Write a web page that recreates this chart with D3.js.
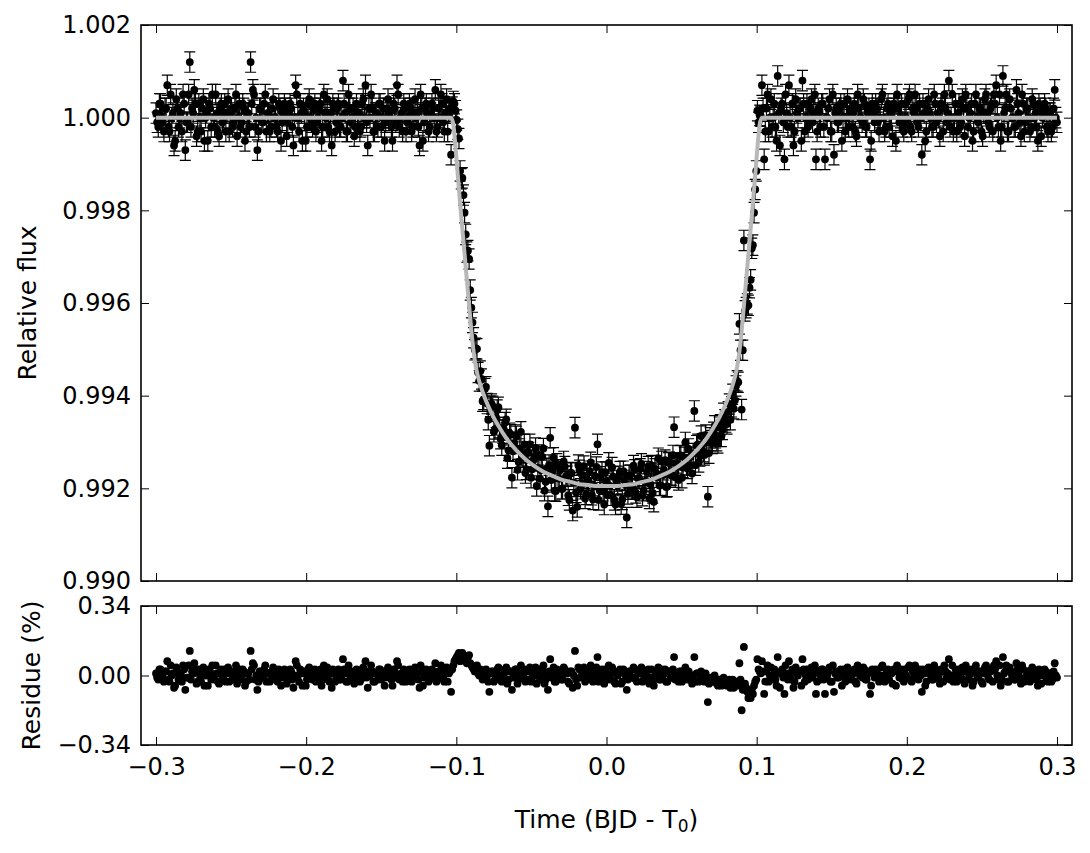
<!DOCTYPE html>
<html><head><meta charset="utf-8">
<script src="https://cdn.jsdelivr.net/npm/d3@7"></script>
<style>html,body{margin:0;padding:0;background:#fff;}svg{display:block;font-family:"DejaVu Sans",sans-serif;}</style>
</head><body><svg id="chart" width="1090" height="853"></svg>
<script>
// Time (BJD - T0), days — two interleaved exposure sequences
const time = [
-0.3000,-0.2985,-0.2970,-0.2955,-0.2940,-0.2925,-0.2910,-0.2895,-0.2880,-0.2865,
-0.2850,-0.2835,-0.2820,-0.2805,-0.2790,-0.2775,-0.2760,-0.2745,-0.2730,-0.2715,
-0.2700,-0.2685,-0.2670,-0.2655,-0.2640,-0.2625,-0.2610,-0.2595,-0.2580,-0.2565,
-0.2550,-0.2535,-0.2520,-0.2505,-0.2490,-0.2475,-0.2460,-0.2445,-0.2430,-0.2415,
-0.2400,-0.2385,-0.2370,-0.2355,-0.2340,-0.2325,-0.2310,-0.2295,-0.2280,-0.2265,
-0.2250,-0.2235,-0.2220,-0.2205,-0.2190,-0.2175,-0.2160,-0.2145,-0.2130,-0.2115,
-0.2100,-0.2085,-0.2070,-0.2055,-0.2040,-0.2025,-0.2010,-0.1995,-0.1980,-0.1965,
-0.1950,-0.1935,-0.1920,-0.1905,-0.1890,-0.1875,-0.1860,-0.1845,-0.1830,-0.1815,
-0.1800,-0.1785,-0.1770,-0.1755,-0.1740,-0.1725,-0.1710,-0.1695,-0.1680,-0.1665,
-0.1650,-0.1635,-0.1620,-0.1605,-0.1590,-0.1575,-0.1560,-0.1545,-0.1530,-0.1515,
-0.1500,-0.1485,-0.1470,-0.1455,-0.1440,-0.1425,-0.1410,-0.1395,-0.1380,-0.1365,
-0.1350,-0.1335,-0.1320,-0.1305,-0.1290,-0.1275,-0.1260,-0.1245,-0.1230,-0.1215,
-0.1200,-0.1185,-0.1170,-0.1155,-0.1140,-0.1125,-0.1110,-0.1095,-0.1080,-0.1065,
-0.1050,-0.1035,-0.1020,-0.1005,-0.0990,-0.0975,-0.0960,-0.0945,-0.0930,-0.0915,
-0.0900,-0.0885,-0.0870,-0.0855,-0.0840,-0.0825,-0.0810,-0.0795,-0.0780,-0.0765,
-0.0750,-0.0735,-0.0720,-0.0705,-0.0690,-0.0675,-0.0660,-0.0645,-0.0630,-0.0615,
-0.0600,-0.0585,-0.0570,-0.0555,-0.0540,-0.0525,-0.0510,-0.0495,-0.0480,-0.0465,
-0.0450,-0.0435,-0.0420,-0.0405,-0.0390,-0.0375,-0.0360,-0.0345,-0.0330,-0.0315,
-0.0300,-0.0285,-0.0270,-0.0255,-0.0240,-0.0225,-0.0210,-0.0195,-0.0180,-0.0165,
-0.0150,-0.0135,-0.0120,-0.0105,-0.0090,-0.0075,-0.0060,-0.0045,-0.0030,-0.0015,
0.0000,0.0015,0.0030,0.0045,0.0060,0.0075,0.0090,0.0105,0.0120,0.0135,
0.0150,0.0165,0.0180,0.0195,0.0210,0.0225,0.0240,0.0255,0.0270,0.0285,
0.0300,0.0315,0.0330,0.0345,0.0360,0.0375,0.0390,0.0405,0.0420,0.0435,
0.0450,0.0465,0.0480,0.0495,0.0510,0.0525,0.0540,0.0555,0.0570,0.0585,
0.0600,0.0615,0.0630,0.0645,0.0660,0.0675,0.0690,0.0705,0.0720,0.0735,
0.0750,0.0765,0.0780,0.0795,0.0810,0.0825,0.0840,0.0855,0.0870,0.0885,
0.0900,0.0915,0.0930,0.0945,0.0960,0.0975,0.0990,0.1005,0.1020,0.1035,
0.1050,0.1065,0.1080,0.1095,0.1110,0.1125,0.1140,0.1155,0.1170,0.1185,
0.1200,0.1215,0.1230,0.1245,0.1260,0.1275,0.1290,0.1305,0.1320,0.1335,
0.1350,0.1365,0.1380,0.1395,0.1410,0.1425,0.1440,0.1455,0.1470,0.1485,
0.1500,0.1515,0.1530,0.1545,0.1560,0.1575,0.1590,0.1605,0.1620,0.1635,
0.1650,0.1665,0.1680,0.1695,0.1710,0.1725,0.1740,0.1755,0.1770,0.1785,
0.1800,0.1815,0.1830,0.1845,0.1860,0.1875,0.1890,0.1905,0.1920,0.1935,
0.1950,0.1965,0.1980,0.1995,0.2010,0.2025,0.2040,0.2055,0.2070,0.2085,
0.2100,0.2115,0.2130,0.2145,0.2160,0.2175,0.2190,0.2205,0.2220,0.2235,
0.2250,0.2265,0.2280,0.2295,0.2310,0.2325,0.2340,0.2355,0.2370,0.2385,
0.2400,0.2415,0.2430,0.2445,0.2460,0.2475,0.2490,0.2505,0.2520,0.2535,
0.2550,0.2565,0.2580,0.2595,0.2610,0.2625,0.2640,0.2655,0.2670,0.2685,
0.2700,0.2715,0.2730,0.2745,0.2760,0.2775,0.2790,0.2805,0.2820,0.2835,
0.2850,0.2865,0.2880,0.2895,0.2910,0.2925,0.2940,0.2955,0.2970,0.2985,
0.3000,
-0.29925,-0.29775,-0.29625,-0.29475,-0.29325,-0.29175,-0.29025,-0.28875,-0.28725,-0.28575,
-0.28425,-0.28275,-0.28125,-0.27975,-0.27825,-0.27675,-0.27525,-0.27375,-0.27225,-0.27075,
-0.26925,-0.26775,-0.26625,-0.26475,-0.26325,-0.26175,-0.26025,-0.25875,-0.25725,-0.25575,
-0.25425,-0.25275,-0.25125,-0.24975,-0.24825,-0.24675,-0.24525,-0.24375,-0.24225,-0.24075,
-0.23925,-0.23775,-0.23625,-0.23475,-0.23325,-0.23175,-0.23025,-0.22875,-0.22725,-0.22575,
-0.22425,-0.22275,-0.22125,-0.21975,-0.21825,-0.21675,-0.21525,-0.21375,-0.21225,-0.21075,
-0.20925,-0.20775,-0.20625,-0.20475,-0.20325,-0.20175,-0.20025,-0.19875,-0.19725,-0.19575,
-0.19425,-0.19275,-0.19125,-0.18975,-0.18825,-0.18675,-0.18525,-0.18375,-0.18225,-0.18075,
-0.17925,-0.17775,-0.17625,-0.17475,-0.17325,-0.17175,-0.17025,-0.16875,-0.16725,-0.16575,
-0.16425,-0.16275,-0.16125,-0.15975,-0.15825,-0.15675,-0.15525,-0.15375,-0.15225,-0.15075,
-0.14925,-0.14775,-0.14625,-0.14475,-0.14325,-0.14175,-0.14025,-0.13875,-0.13725,-0.13575,
-0.13425,-0.13275,-0.13125,-0.12975,-0.12825,-0.12675,-0.12525,-0.12375,-0.12225,-0.12075,
-0.11925,-0.11775,-0.11625,-0.11475,-0.11325,-0.11175,-0.11025,-0.10875,-0.10725,-0.10575,
-0.10425,-0.10275,-0.10125,-0.09975,-0.09825,-0.09675,-0.09525,-0.09375,-0.09225,-0.09075,
-0.08925,-0.08775,-0.08625,-0.08475,-0.08325,-0.08175,-0.08025,-0.07875,-0.07725,-0.07575,
-0.07425,-0.07275,-0.07125,-0.06975,-0.06825,-0.06675,-0.06525,-0.06375,-0.06225,-0.06075,
-0.05925,-0.05775,-0.05625,-0.05475,-0.05325,-0.05175,-0.05025,-0.04875,-0.04725,-0.04575,
-0.04425,-0.04275,-0.04125,-0.03975,-0.03825,-0.03675,-0.03525,-0.03375,-0.03225,-0.03075,
-0.02925,-0.02775,-0.02625,-0.02475,-0.02325,-0.02175,-0.02025,-0.01875,-0.01725,-0.01575,
-0.01425,-0.01275,-0.01125,-0.00975,-0.00825,-0.00675,-0.00525,-0.00375,-0.00225,-0.00075,
0.00075,0.00225,0.00375,0.00525,0.00675,0.00825,0.00975,0.01125,0.01275,0.01425,
0.01575,0.01725,0.01875,0.02025,0.02175,0.02325,0.02475,0.02625,0.02775,0.02925,
0.03075,0.03225,0.03375,0.03525,0.03675,0.03825,0.03975,0.04125,0.04275,0.04425,
0.04575,0.04725,0.04875,0.05025,0.05175,0.05325,0.05475,0.05625,0.05775,0.05925,
0.06075,0.06225,0.06375,0.06525,0.06675,0.06825,0.06975,0.07125,0.07275,0.07425,
0.07575,0.07725,0.07875,0.08025,0.08175,0.08325,0.08475,0.08625,0.08775,0.08925,
0.09075,0.09225,0.09375,0.09525,0.09675,0.09825,0.09975,0.10125,0.10275,0.10425,
0.10575,0.10725,0.10875,0.11025,0.11175,0.11325,0.11475,0.11625,0.11775,0.11925,
0.12075,0.12225,0.12375,0.12525,0.12675,0.12825,0.12975,0.13125,0.13275,0.13425,
0.13575,0.13725,0.13875,0.14025,0.14175,0.14325,0.14475,0.14625,0.14775,0.14925,
0.15075,0.15225,0.15375,0.15525,0.15675,0.15825,0.15975,0.16125,0.16275,0.16425,
0.16575,0.16725,0.16875,0.17025,0.17175,0.17325,0.17475,0.17625,0.17775,0.17925,
0.18075,0.18225,0.18375,0.18525,0.18675,0.18825,0.18975,0.19125,0.19275,0.19425,
0.19575,0.19725,0.19875,0.20025,0.20175,0.20325,0.20475,0.20625,0.20775,0.20925,
0.21075,0.21225,0.21375,0.21525,0.21675,0.21825,0.21975,0.22125,0.22275,0.22425,
0.22575,0.22725,0.22875,0.23025,0.23175,0.23325,0.23475,0.23625,0.23775,0.23925,
0.24075,0.24225,0.24375,0.24525,0.24675,0.24825,0.24975,0.25125,0.25275,0.25425,
0.25575,0.25725,0.25875,0.26025,0.26175,0.26325,0.26475,0.26625,0.26775,0.26925,
0.27075,0.27225,0.27375,0.27525,0.27675,0.27825,0.27975,0.28125,0.28275,0.28425,
0.28575,0.28725,0.28875,0.29025,0.29175,0.29325,0.29475,0.29625,0.29775,0.29925];

// Relative flux
const flux = [
1.0001,0.9998,1.0003,0.9999,1.0002,1.0007,0.9997,1.0000,0.9994,1.0004,
0.9998,1.0001,1.0005,0.9993,0.9999,1.0012,1.0002,1.0006,0.9996,1.0003,
0.9997,1.0004,1.0000,0.9995,1.0002,1.0005,0.9998,1.0001,0.9996,1.0003,
1.0000,0.9997,1.0004,1.0001,0.9998,1.0002,0.9996,1.0003,0.9999,1.0002,
0.9997,1.0001,1.0012,1.0006,0.9998,0.9993,1.0002,0.9999,1.0003,0.9997,
1.0001,0.9998,1.0004,1.0000,0.9997,1.0002,0.9999,1.0003,0.9996,1.0001,
1.0002,0.9994,1.0007,1.0000,1.0003,0.9995,1.0001,0.9998,1.0004,0.9999,
1.0002,0.9997,1.0000,1.0003,0.9998,1.0001,1.0004,0.9997,0.9994,1.0002,
0.9999,1.0003,0.9998,1.0008,1.0001,0.9997,1.0002,1.0000,0.9996,1.0003,
1.0001,0.9998,1.0004,1.0007,0.9994,1.0000,1.0002,0.9997,1.0001,1.0003,
0.9998,1.0002,0.9999,1.0004,1.0000,0.9995,1.0002,1.0007,0.9998,1.0001,
1.0003,0.9997,1.0000,1.0002,0.9998,1.0004,1.0001,0.9994,1.0002,0.9999,
1.0003,0.9997,1.0001,1.0002,1.0006,0.9998,1.0000,1.0003,0.9997,1.0004,1.0001,0.9992,
1.00035,1.00015,0.99975,0.99885,0.99870,0.99795,0.99710,0.99695,0.99590,0.99525,
0.99502,0.99450,0.99453,0.99388,0.99415,0.99383,0.99292,0.99382,0.99322,0.99353,
0.99375,0.99307,0.99319,0.99342,0.99265,0.99319,0.99223,0.99297,0.99312,0.99257,
0.99322,0.99267,0.99233,0.99279,0.99295,0.99241,0.99268,0.99205,0.99272,0.99239,
0.99286,0.99214,0.99161,0.99309,0.99237,0.99195,0.99253,0.99221,0.99199,0.99258,
0.99226,0.99185,0.99234,0.99152,0.99331,0.99160,0.99239,0.99208,0.99248,0.99187,
0.99217,0.99256,0.99176,0.99226,0.99295,0.99195,0.99235,0.99165,0.99215,0.99255,
0.99185,0.99225,0.99165,0.99206,0.99236,0.99176,0.99217,0.99137,0.99228,0.99198,
0.99249,0.99190,0.99221,0.99242,0.99184,0.99215,0.99236,0.99178,0.99249,0.99171,
0.99233,0.99265,0.99207,0.99229,0.99261,0.99204,0.99256,0.99229,0.99332,0.99255,
0.99218,0.99271,0.99245,0.99299,0.99243,0.99267,0.99232,0.99367,0.99292,0.99257,
0.99313,0.99279,0.99315,0.99182,0.99309,0.99297,0.99335,0.99303,0.99332,0.99312,
0.99362,0.99343,0.99365,0.99348,0.99403,0.99390,0.99432,0.99555,0.99370,0.99735,
0.99590,0.99595,0.99650,0.99725,0.99845,1.00015,1.00005,
1.0007,0.9991,1.0002,0.9997,1.0004,1.0000,0.9998,1.0009,0.9994,1.0003,
0.9991,1.0001,1.0007,0.9998,0.9994,1.0004,1.0000,1.0002,1.0008,0.9997,
1.0003,0.9999,1.0004,1.0001,0.9991,1.0002,0.9998,1.0003,0.9991,1.0000,
1.0004,0.9997,0.9992,1.0002,0.9999,1.0003,1.0000,0.9997,1.0004,1.0001,
0.9998,1.0003,0.9996,1.0002,1.0000,1.0004,0.9998,1.0001,0.9991,1.0003,
0.9999,1.0002,0.9997,1.0004,1.0000,0.9998,1.0003,1.0001,0.9996,1.0002,
1.0005,0.9999,1.0003,0.9997,1.0000,1.0004,0.9998,1.0002,1.0005,0.9999,
1.0003,0.9992,1.0001,0.9997,1.0004,1.0000,0.9998,1.0003,1.0001,0.9996,
1.0002,1.0005,0.9999,1.0008,1.0000,0.9997,1.0003,1.0001,0.9998,1.0004,
0.9996,1.0002,1.0000,1.0003,0.9997,1.0005,0.9999,1.0002,0.9996,1.0004,
1.0001,0.9998,1.0003,1.0005,1.0007,0.9998,0.9995,1.0009,1.0002,0.9997,
1.0004,1.0000,0.9998,1.0006,1.0001,0.9996,1.0003,0.9999,1.0002,0.9997,
1.0004,1.0000,0.9998,1.0003,0.9996,1.0001,1.0002,0.9997,1.0001,0.9998,1.0006,0.9999,
0.9999,1.0003,1.0000,0.9997,1.0002,0.9998,1.0005,1.0001,0.9995,1.0002,
1.0000,0.9997,1.0003,0.9999,1.0005,0.9998,1.0001,1.0003,0.9997,1.0000,
1.0002,0.9995,1.0001,1.0003,0.9998,1.0000,1.0005,0.9997,1.0002,0.9999,
1.0003,1.0001,0.9997,1.0002,0.9999,1.0005,1.0000,0.9998,1.0003,0.9995,
1.0001,0.9998,1.0003,1.0005,1.0000,0.9997,1.0002,0.9999,1.0005,1.0001,
0.9997,1.0002,1.0000,0.9998,1.0003,0.9995,1.0001,1.0002,0.9999,1.0003,
0.9998,1.0000,1.0005,0.9997,1.0001,1.0002,0.9995,1.0003,1.0000,0.9998,
1.0003,0.9999,1.0002,0.9995,1.0005,1.0000,0.9998,1.0001,1.0003,0.9997,
1.0002,0.9998,1.0000,1.0003,0.9997,1.0005,0.9999,1.0002,0.9998,1.0001,
0.9997,1.0003,1.0000,0.9999,1.0002,1.0005,0.9997,1.0001,0.9998,1.0003,
1.0000,0.9995,1.0002,1.0001,0.9998,1.0003,0.9999,1.0005,1.0000,0.9997,
1.0002,0.9999,1.0003,0.9997,1.0001,1.0000,0.9998,1.0005,0.9995,1.0002,
1.0001,0.9998,1.0003,1.0000,0.9997,1.0002,1.0005,0.9999,1.0001,0.9997,1.0002,
1.00023,1.00030,0.99995,0.99955,0.99868,0.99833,0.99748,0.99713,0.99628,0.99558,
0.99499,0.99501,0.99432,0.99436,0.99392,0.99419,0.99348,0.99377,0.99377,0.99328,
0.99369,0.99331,0.99293,0.99326,0.99349,0.99282,0.99316,0.99280,0.99315,0.99240,
0.99285,0.99270,0.99295,0.99241,0.99277,0.99223,0.99260,0.99287,0.99244,0.99221,
0.99268,0.99195,0.99243,0.99250,0.99218,0.99266,0.99194,0.99222,0.99240,0.99199,
0.99247,0.99226,0.99175,0.99233,0.99212,0.99191,0.99250,0.99199,0.99228,0.99178,
0.99217,0.99237,0.99186,0.99206,0.99246,0.99175,0.99225,0.99195,0.99235,0.99185,
0.99205,0.99245,0.99175,0.99216,0.99226,0.99166,0.99237,0.99207,0.99188,0.99228,
0.99199,0.99240,0.99181,0.99222,0.99253,0.99195,0.99216,0.99247,0.99209,0.99190,
0.99242,0.99224,0.99206,0.99258,0.99240,0.99203,0.99255,0.99228,0.99271,0.99224,
0.99247,0.99270,0.99223,0.99267,0.99251,0.99285,0.99250,0.99275,0.99250,0.99295,
0.99270,0.99296,0.99272,0.99299,0.99276,0.99303,0.99321,0.99309,0.99298,0.99337,
0.99327,0.99348,0.99339,0.99382,0.99376,0.99372,0.99421,0.99429,0.99498,0.99498,
0.99583,0.99598,0.99633,0.99718,0.99795,0.99885,0.99990,1.00003,
1.0002,0.9997,1.0005,1.0000,0.9998,1.0003,0.9995,1.0001,1.0002,0.9999,
1.0005,0.9998,1.0000,1.0003,0.9997,1.0001,1.0002,0.9995,1.0003,1.0000,
0.9998,1.0002,0.9999,1.0005,0.9997,1.0001,1.0003,0.9998,1.0000,1.0002,
0.9997,1.0005,1.0001,0.9999,1.0002,0.9995,1.0003,1.0000,0.9998,1.0002,
1.0001,0.9997,1.0005,1.0000,0.9999,1.0003,0.9998,1.0002,0.9995,1.0001,
1.0003,0.9999,1.0000,1.0005,0.9997,1.0002,0.9998,1.0001,1.0003,0.9995,
1.0002,1.0000,0.9998,1.0003,0.9999,1.0005,0.9997,1.0001,1.0002,0.9998,
1.0000,1.0003,0.9995,1.0002,1.0001,0.9998,1.0005,0.9999,1.0000,1.0003,
0.9997,1.0002,1.0001,0.9998,1.0005,1.0000,0.9997,1.0003,0.9999,1.0002,
1.0005,0.9998,1.0001,0.9995,1.0003,1.0000,1.0002,0.9997,1.0001,1.0005,
0.9999,1.0002,0.9997,1.0003,1.0000,1.0005,0.9998,1.0001,1.0005,0.9997,
1.0002,1.0000,0.9998,1.0003,0.9999,1.0005,0.9997,1.0002,1.0000,0.9998,
1.0003,1.0001,0.9995,1.0002,1.0000,1.0003,0.9998,1.0001,0.9997,1.0002,1.0000];

// Residue (%)
const residue = [
0.01,-0.02,0.03,-0.01,0.02,0.07,-0.03,0.00,-0.06,0.04,
-0.02,0.01,0.05,-0.07,-0.01,0.12,0.02,0.06,-0.04,0.03,
-0.03,0.04,0.00,-0.05,0.02,0.05,-0.02,0.01,-0.04,0.03,
0.00,-0.03,0.04,0.01,-0.02,0.02,-0.04,0.03,-0.01,0.02,
-0.03,0.01,0.12,0.06,-0.02,-0.07,0.02,-0.01,0.03,-0.03,
0.01,-0.02,0.04,0.00,-0.03,0.02,-0.01,0.03,-0.04,0.01,
0.02,-0.06,0.07,0.00,0.03,-0.05,0.01,-0.02,0.04,-0.01,
0.02,-0.03,0.00,0.03,-0.02,0.01,0.04,-0.03,-0.06,0.02,
-0.01,0.03,-0.02,0.08,0.01,-0.03,0.02,0.00,-0.04,0.03,
0.01,-0.02,0.04,0.07,-0.06,0.00,0.02,-0.03,0.01,0.03,
-0.02,0.02,-0.01,0.04,0.00,-0.05,0.02,0.07,-0.02,0.01,
0.03,-0.03,0.00,0.02,-0.02,0.04,0.01,-0.06,0.02,-0.01,
0.03,-0.03,0.01,0.02,0.06,-0.02,0.00,0.03,-0.03,0.04,0.01,-0.08,
0.05,0.08,0.10,0.07,0.11,0.09,0.06,0.10,0.05,0.03,
0.04,0.01,0.03,-0.02,0.02,0.00,-0.08,0.02,-0.03,0.01,
0.04,-0.02,0.00,0.03,-0.04,0.02,-0.07,0.01,0.03,-0.02,
0.05,0.00,-0.03,0.02,0.04,-0.01,0.02,-0.04,0.03,0.00,
0.05,-0.02,-0.07,0.08,0.01,-0.03,0.03,0.00,-0.02,0.04,
0.01,-0.03,0.02,-0.06,0.12,-0.05,0.03,0.00,0.04,-0.02,
0.01,0.05,-0.03,0.02,0.09,-0.01,0.03,-0.04,0.01,0.05,
-0.02,0.02,-0.04,0.00,0.03,-0.03,0.01,-0.07,0.02,-0.01,
0.04,-0.02,0.01,0.03,-0.03,0.00,0.02,-0.04,0.03,-0.05,
0.01,0.04,-0.02,0.00,0.03,-0.03,0.02,-0.01,0.09,0.01,
-0.03,0.02,-0.01,0.04,-0.02,0.00,-0.04,0.09,0.01,-0.03,
0.02,-0.02,0.01,-0.13,-0.01,-0.03,0.00,-0.04,-0.02,-0.05,
-0.01,-0.04,-0.03,-0.06,-0.02,-0.05,-0.03,0.06,-0.17,0.14,
-0.06,-0.11,-0.11,-0.09,-0.03,0.08,0.02,
0.07,-0.09,0.02,-0.03,0.04,0.00,-0.02,0.09,-0.06,0.03,
-0.09,0.01,0.07,-0.02,-0.06,0.04,0.00,0.02,0.08,-0.03,
0.03,-0.01,0.04,0.01,-0.09,0.02,-0.02,0.03,-0.09,0.00,
0.04,-0.03,-0.08,0.02,-0.01,0.03,0.00,-0.03,0.04,0.01,
-0.02,0.03,-0.04,0.02,0.00,0.04,-0.02,0.01,-0.09,0.03,
-0.01,0.02,-0.03,0.04,0.00,-0.02,0.03,0.01,-0.04,0.02,
0.05,-0.01,0.03,-0.03,0.00,0.04,-0.02,0.02,0.05,-0.01,
0.03,-0.08,0.01,-0.03,0.04,0.00,-0.02,0.03,0.01,-0.04,
0.02,0.05,-0.01,0.08,0.00,-0.03,0.03,0.01,-0.02,0.04,
-0.04,0.02,0.00,0.03,-0.03,0.05,-0.01,0.02,-0.04,0.04,
0.01,-0.02,0.03,0.05,0.07,-0.02,-0.05,0.09,0.02,-0.03,
0.04,0.00,-0.02,0.06,0.01,-0.04,0.03,-0.01,0.02,-0.03,
0.04,0.00,-0.02,0.03,-0.04,0.01,0.02,-0.03,0.01,-0.02,0.06,-0.01,
-0.01,0.03,0.00,-0.03,0.02,-0.02,0.05,0.01,-0.05,0.02,
0.00,-0.03,0.03,-0.01,0.05,-0.02,0.01,0.03,-0.03,0.00,
0.02,-0.05,0.01,0.03,-0.02,0.00,0.05,-0.03,0.02,-0.01,
0.03,0.01,-0.03,0.02,-0.01,0.05,0.00,-0.02,0.03,-0.05,
0.01,-0.02,0.03,0.05,0.00,-0.03,0.02,-0.01,0.05,0.01,
-0.03,0.02,0.00,-0.02,0.03,-0.05,0.01,0.02,-0.01,0.03,
-0.02,0.00,0.05,-0.03,0.01,0.02,-0.05,0.03,0.00,-0.02,
0.03,-0.01,0.02,-0.05,0.05,0.00,-0.02,0.01,0.03,-0.03,
0.02,-0.02,0.00,0.03,-0.03,0.05,-0.01,0.02,-0.02,0.01,
-0.03,0.03,0.00,-0.01,0.02,0.05,-0.03,0.01,-0.02,0.03,
0.00,-0.05,0.02,0.01,-0.02,0.03,-0.01,0.05,0.00,-0.03,
0.02,-0.01,0.03,-0.03,0.01,0.00,-0.02,0.05,-0.05,0.02,
0.01,-0.02,0.03,0.00,-0.03,0.02,0.05,-0.01,0.01,-0.03,0.02,
0.03,0.07,0.09,0.11,0.08,0.10,0.07,0.09,0.06,0.04,
0.02,0.05,0.00,0.02,-0.01,0.03,-0.03,0.01,0.02,-0.02,
0.03,0.00,-0.03,0.01,0.04,-0.02,0.02,-0.01,0.03,-0.04,
0.01,0.00,0.03,-0.02,0.02,-0.03,0.01,0.04,0.00,-0.02,
0.03,-0.04,0.01,0.02,-0.01,0.04,-0.03,0.00,0.02,-0.02,
0.03,0.01,-0.04,0.02,0.00,-0.02,0.04,-0.01,0.02,-0.03,
0.01,0.03,-0.02,0.00,0.04,-0.03,0.02,-0.01,0.03,-0.02,
0.00,0.04,-0.03,0.01,0.02,-0.04,0.03,0.00,-0.02,0.02,
-0.01,0.03,-0.03,0.01,0.04,-0.02,0.00,0.03,-0.01,-0.03,
0.02,0.00,-0.02,0.03,0.01,-0.03,0.02,-0.01,0.03,-0.02,
0.00,0.02,-0.03,0.01,-0.01,0.02,-0.02,0.00,-0.03,0.01,
-0.02,0.00,-0.03,-0.01,-0.04,-0.02,-0.01,-0.03,-0.05,-0.02,
-0.04,-0.03,-0.05,-0.02,-0.04,-0.06,-0.03,-0.05,-0.02,-0.07,
-0.04,-0.08,-0.10,-0.07,-0.05,-0.02,0.03,0.01,
0.02,-0.03,0.05,0.00,-0.02,0.03,-0.05,0.01,0.02,-0.01,
0.05,-0.02,0.00,0.03,-0.03,0.01,0.02,-0.05,0.03,0.00,
-0.02,0.02,-0.01,0.05,-0.03,0.01,0.03,-0.02,0.00,0.02,
-0.03,0.05,0.01,-0.01,0.02,-0.05,0.03,0.00,-0.02,0.02,
0.01,-0.03,0.05,0.00,-0.01,0.03,-0.02,0.02,-0.05,0.01,
0.03,-0.01,0.00,0.05,-0.03,0.02,-0.02,0.01,0.03,-0.05,
0.02,0.00,-0.02,0.03,-0.01,0.05,-0.03,0.01,0.02,-0.02,
0.00,0.03,-0.05,0.02,0.01,-0.02,0.05,-0.01,0.00,0.03,
-0.03,0.02,0.01,-0.02,0.05,0.00,-0.03,0.03,-0.01,0.02,
0.05,-0.02,0.01,-0.05,0.03,0.00,0.02,-0.03,0.01,0.05,
-0.01,0.02,-0.03,0.03,0.00,0.05,-0.02,0.01,0.05,-0.03,
0.02,0.00,-0.02,0.03,-0.01,0.05,-0.03,0.02,0.00,-0.02,
0.03,0.01,-0.05,0.02,0.00,0.03,-0.02,0.01,-0.03,0.02,0.00];

const fluxError = 0.00022;

// Best-fit transit model (grey curve)
const modelTime = [-0.3000,-0.1035,-0.1020,-0.1005,-0.0990,-0.0975,-0.0960,-0.0945,-0.0930,-0.0915,-0.0900,-0.0885,-0.0870,-0.0855,-0.0840,
-0.0810,-0.0780,-0.0750,-0.0720,-0.0690,-0.0660,-0.0630,-0.0600,
-0.0540,-0.0480,-0.0420,-0.0360,-0.0300,-0.0240,-0.0180,-0.0120,-0.0060,0.0000,
0.0060,0.0120,0.0180,0.0240,0.0300,0.0360,0.0420,0.0480,0.0540,
0.0600,0.0630,0.0660,0.0690,0.0720,0.0750,0.0780,0.0810,
0.0840,0.0855,0.0870,0.0885,0.0900,0.0915,0.0930,0.0945,0.0960,0.0975,0.0990,0.1005,0.1020,0.1035,0.3000];
const modelFlux = [1.00000,1.00000,0.99985,0.99935,0.99875,0.99815,0.99760,0.99705,0.99650,0.99595,0.99540,0.99495,0.99462,0.99440,0.99423,
0.99395,0.99372,0.99352,0.99335,0.99319,0.99305,0.99293,0.99282,
0.99263,0.99248,0.99236,0.99227,0.99219,0.99214,0.99209,0.99207,0.99205,0.99205,
0.99205,0.99207,0.99209,0.99214,0.99219,0.99227,0.99236,0.99248,0.99263,
0.99282,0.99293,0.99305,0.99319,0.99335,0.99352,0.99372,0.99395,
0.99423,0.99440,0.99462,0.99495,0.99540,0.99595,0.99650,0.99705,0.99760,0.99815,0.99875,0.99935,0.99985,1.00000,1.00000];

const timeTicks = [-0.3,-0.2,-0.1,0.0,0.1,0.2,0.3];
const fluxTicks = [0.990,0.992,0.994,0.996,0.998,1.000,1.002];
const residueTicks = [-0.34,0.00,0.34];

const W = 1090, H = 853;
const svg = d3.select("#chart");
svg.append("rect").attr("width", W).attr("height", H).attr("fill", "#fff");

const left = 141, right = 1072;
const topT = 25, botT = 581, topB = 606, botB = 745;
const FONT = "DejaVu Sans, Bitstream Vera Sans, sans-serif";
const TICK_FS = 24, LABEL_FS = 25;

const x = d3.scaleLinear().domain([-0.31, 0.31]).range([left, right]);
const yF = d3.scaleLinear().domain([0.990, 1.002]).range([botT, topT]);
const yR = d3.scaleLinear().domain([-0.34, 0.34]).range([botB, topB]);

const n = Math.min(time.length, flux.length, residue.length);
const pts = d3.range(n).map(i => ({t: time[i], f: flux[i], r: residue[i]}));

// ---- top panel: error bars, points, model ----
const gT = svg.append("g");
const eb = gT.append("g").attr("stroke", "#000").attr("stroke-width", 1.2).attr("fill", "none");
const capW = 5.5;
eb.selectAll("path").data(pts).join("path")
  .attr("d", d => {
    const cx = x(d.t), y1 = yF(d.f + fluxError), y2 = yF(d.f - fluxError);
    return `M${cx},${y1}V${y2}M${cx - capW},${y1}H${cx + capW}M${cx - capW},${y2}H${cx + capW}`;
  });
gT.append("g").selectAll("circle").data(pts).join("circle")
  .attr("cx", d => x(d.t)).attr("cy", d => yF(d.f)).attr("r", 3.9).attr("fill", "#000");

const model = modelTime.map((t, i) => ({t, f: modelFlux[i]}));
gT.append("path").datum(model)
  .attr("fill", "none").attr("stroke", "#b8b8b8").attr("stroke-width", 4)
  .attr("stroke-linejoin", "round")
  .attr("d", d3.line().x(d => x(d.t)).y(d => yF(d.f)).curve(d3.curveMonotoneX));

// ---- bottom panel: residuals ----
svg.append("g").selectAll("circle").data(pts).join("circle")
  .attr("cx", d => x(d.t)).attr("cy", d => yR(d.r)).attr("r", 3.9).attr("fill", "#000");

// ---- axes ----
function styleAxis(a) {
  a.select(".domain").remove();
  a.selectAll(".tick line").attr("stroke", "#000").attr("stroke-width", 1);
  a.selectAll(".tick text").attr("font-size", TICK_FS).attr("fill", "#000").attr("font-family", FONT);
  return a;
}
function drawFrame(yScale, yTicks, yFmt, top, bottom, showX) {
  const g = svg.append("g");
  styleAxis(g.append("g").attr("transform", `translate(0,${bottom})`)
    .call(d3.axisBottom(x).tickValues(timeTicks).tickSize(-8).tickPadding(13)
      .tickFormat(showX ? d3.format(".1f") : () => "")));
  styleAxis(g.append("g").attr("transform", `translate(0,${top})`)
    .call(d3.axisTop(x).tickValues(timeTicks).tickSize(-8).tickFormat(() => "")));
  styleAxis(g.append("g").attr("transform", `translate(${left},0)`)
    .call(d3.axisLeft(yScale).tickValues(yTicks).tickSize(-8).tickPadding(10).tickFormat(yFmt)));
  styleAxis(g.append("g").attr("transform", `translate(${right},0)`)
    .call(d3.axisRight(yScale).tickValues(yTicks).tickSize(-8).tickFormat(() => "")));
  g.append("rect").attr("x", left).attr("y", top).attr("width", right - left).attr("height", bottom - top)
    .attr("fill", "none").attr("stroke", "#000").attr("stroke-width", 1.6);
}
drawFrame(yF, fluxTicks, d3.format(".3f"), topT, botT, false);
drawFrame(yR, residueTicks, d3.format(".2f"), topB, botB, true);

// ---- axis titles ----
svg.append("text").attr("transform", `translate(36,${(topT + botT) / 2}) rotate(-90)`)
  .attr("text-anchor", "middle").attr("font-size", LABEL_FS).attr("font-family", FONT).attr("fill", "#000")
  .text("Relative flux");
svg.append("text").attr("transform", `translate(40,${(topB + botB) / 2}) rotate(-90)`)
  .attr("text-anchor", "middle").attr("font-size", LABEL_FS).attr("font-family", FONT).attr("fill", "#000")
  .text("Residue (%)");
const xl = svg.append("text").attr("x", (left + right) / 2).attr("y", 828)
  .attr("text-anchor", "middle").attr("font-size", LABEL_FS).attr("font-family", FONT).attr("fill", "#000");
xl.append("tspan").text("Time (BJD - T");
xl.append("tspan").attr("font-size", 17).attr("dy", 4).text("0");
xl.append("tspan").attr("dy", -4).text(")");
</script>
</body></html>
